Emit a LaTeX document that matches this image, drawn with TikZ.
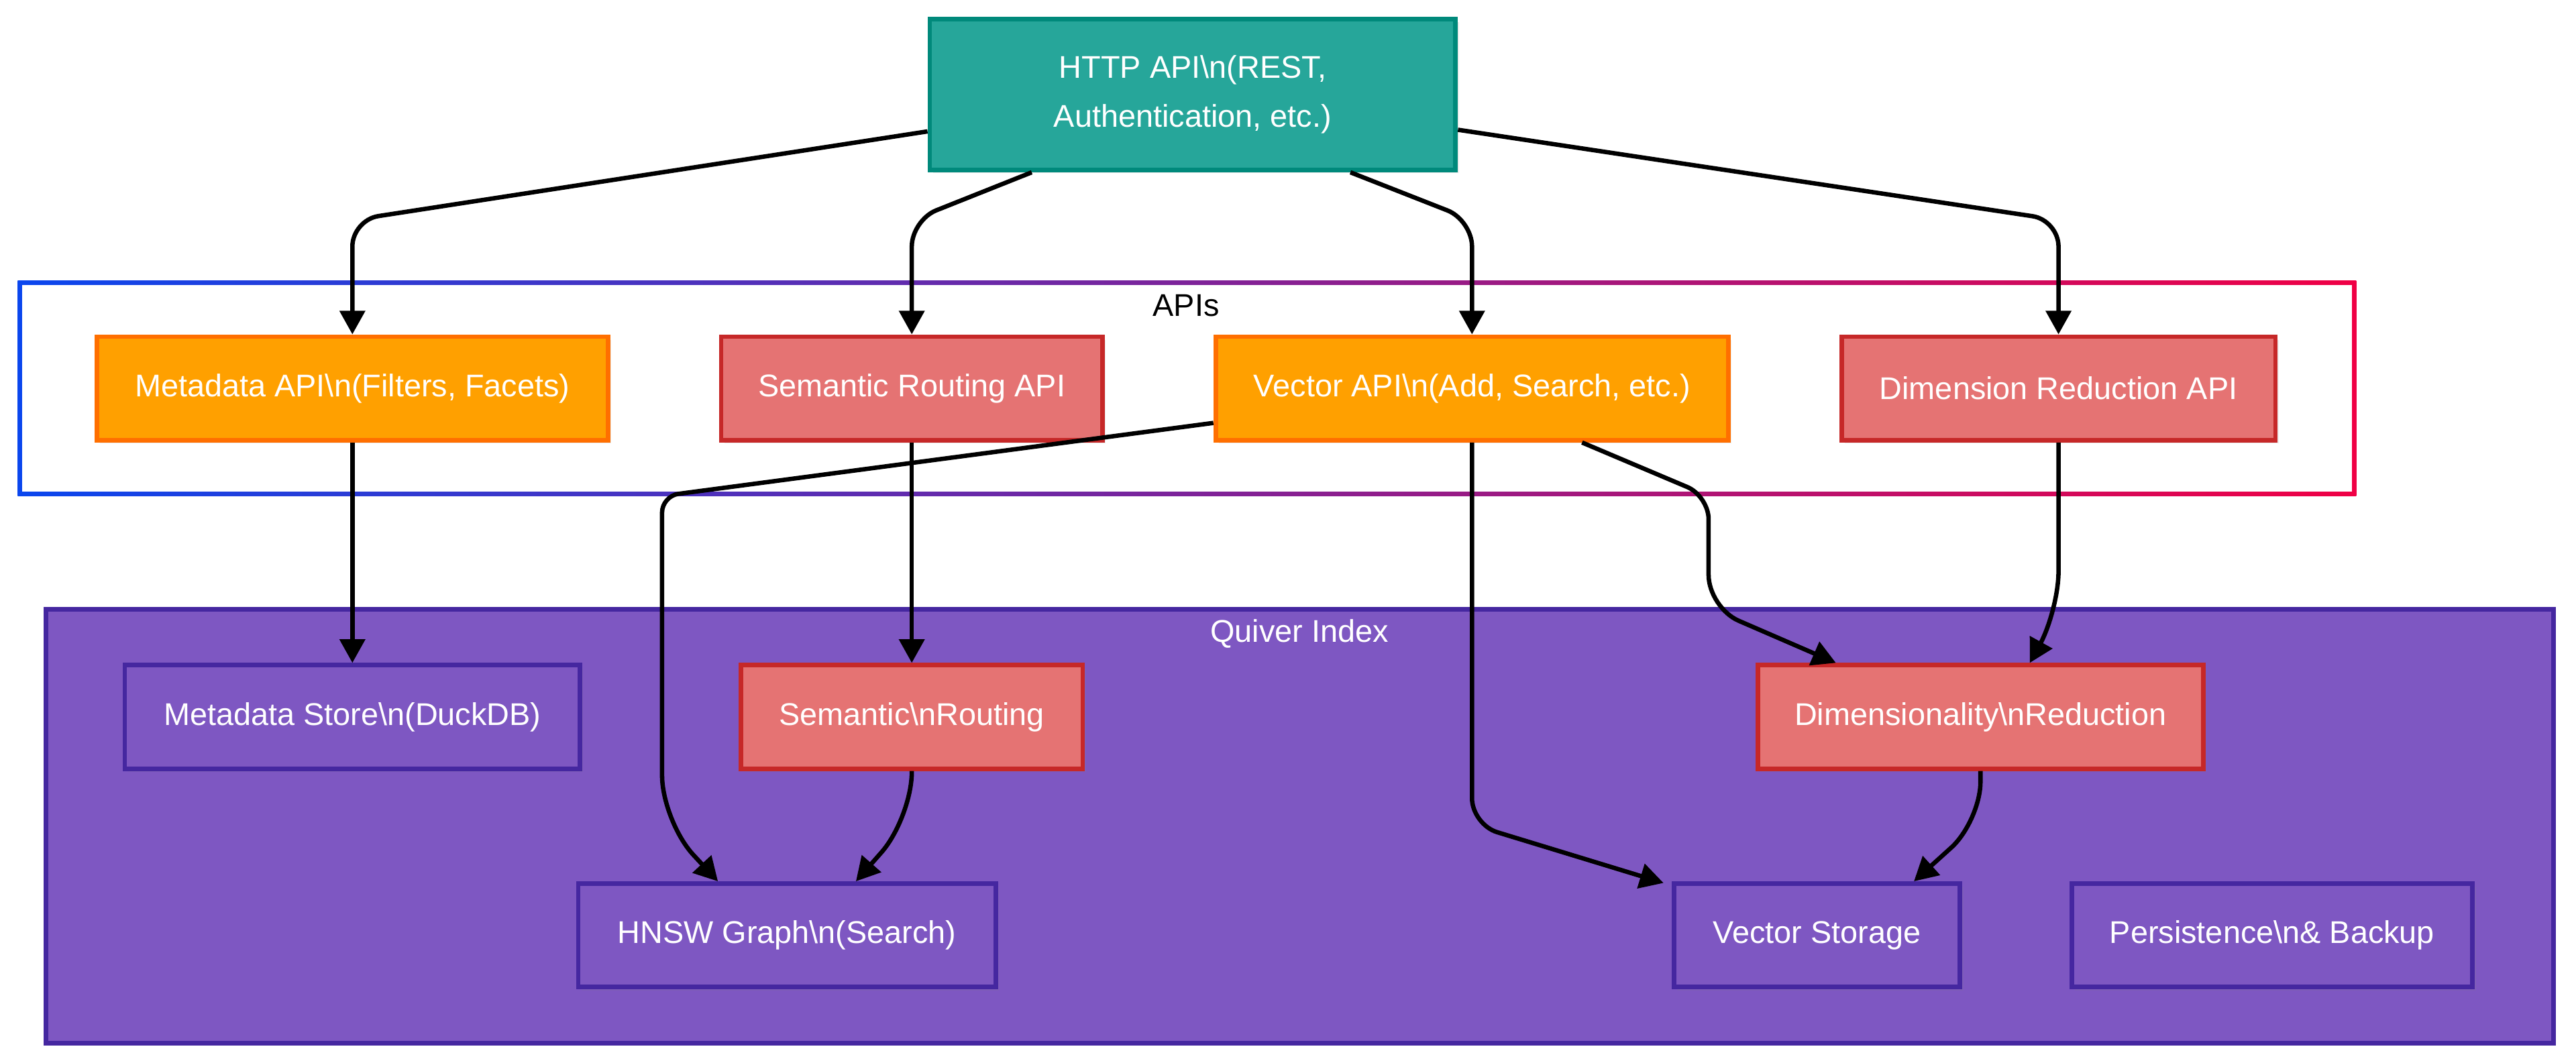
\documentclass[tikz,border=0pt]{standalone}
\usepackage{fontspec}
\setmainfont{Liberation Sans}
\usetikzlibrary{arrows.meta,calc,shadows}
\definecolor{tealfill}{HTML}{26A69A}
\definecolor{tealdraw}{HTML}{00897B}
\definecolor{orfill}{HTML}{FFA000}
\definecolor{ordraw}{HTML}{FF6F00}
\definecolor{redfill}{HTML}{E57373}
\definecolor{reddraw}{HTML}{C62828}
\definecolor{purfill}{HTML}{7E57C2}
\definecolor{purdraw}{HTML}{4527A0}
\definecolor{apiblue}{HTML}{0A46EE}
\definecolor{apired}{HTML}{F00045}
\begin{document}
\begin{tikzpicture}[x=0.025cm,y=-0.025cm,
  font=\fontsize{13.6}{21.3}\selectfont,
  box/.style={draw, line width=2pt, text=white, inner sep=0pt,
    minimum height=1.575cm, align=center,
    drop shadow={opacity=0.15, shadow xshift=0.05cm, shadow yshift=-0.05cm}},
  orbox/.style={box, fill=orfill, draw=ordraw},
  redbox/.style={box, fill=redfill, draw=reddraw},
  purbox/.style={box, fill=purfill, draw=purdraw},
  conn/.style={draw=black, line width=1.9pt, rounded corners=0.4cm,
    -{Triangle[length=0.36cm,width=0.38cm]}},
  title/.style={inner sep=0pt}
]
\useasboundingbox (0,0) rectangle (1568,647);
\fill[white] (0,0) rectangle (1568,647);

% containers
\node[inner sep=0pt, minimum width=35.575cm, minimum height=3.275cm,
      left color=apiblue, right color=apired] (apis) at (722.5,236.5) {};
\fill[white] ($(apis.south west)+(2.8,-2.8)$) rectangle ($(apis.north east)+(-2.8,2.8)$);
\node[title, text=black] (apistitle) at (722,186) {APIs};

\node[inner sep=0pt, minimum width=38.15cm, minimum height=6.6cm,
      fill=purfill, draw=purdraw, line width=2pt] (quiver) at (791,503) {};
\node[title, text=white] (quivertitle) at (791,386) {Quiver Index};

% nodes
\node[box, fill=tealfill, draw=tealdraw, minimum width=8cm, minimum height=2.3cm]
  (http) at (726,57.5) {HTTP API\textbackslash n(REST,\\Authentication, etc.)};

\node[orbox, minimum width=7.775cm] (mapi) at (214.5,236.5) {Metadata API\textbackslash n(Filters, Facets)};
\node[redbox, minimum width=5.8cm] (sapi) at (555,236.5) {Semantic Routing API};
\node[orbox, minimum width=7.8cm] (vapi) at (896,236.5) {Vector API\textbackslash n(Add, Search, etc.)};
\node[redbox, minimum width=6.6cm] (dapi) at (1253,236.5) {Dimension Reduction API};

\node[purbox, minimum width=6.925cm] (mstore) at (214.5,436.5) {Metadata Store\textbackslash n(DuckDB)};
\node[redbox, minimum width=5.2cm] (sroute) at (555,436.5) {Semantic\textbackslash nRouting};
\node[redbox, minimum width=6.775cm] (dimred) at (1205.5,436.5) {Dimensionality\textbackslash nReduction};

\node[purbox, minimum width=6.35cm] (hnsw) at (479,569.5) {HNSW Graph\textbackslash n(Search)};
\node[purbox, minimum width=4.35cm] (vstore) at (1106,569.5) {Vector Storage};
\node[purbox, minimum width=6.1cm] (persist) at (1383,569.5) {Persistence\textbackslash n\& Backup};

% connectors
\draw[conn] ($(http.west)+(0,22.5)$) -- (mapi.north |- 0,134) -- (mapi.north);
\draw[conn] ($(http.south)+(-98,0)$) -- (sapi.north |- 0,134) -- (sapi.north);
\draw[conn] ($(http.south)+(96,0)$) -- (vapi.north |- 0,134) -- (vapi.north);
\draw[conn] ($(http.east)+(0,21.5)$) -- (dapi.north |- 0,134) -- (dapi.north);

\draw[conn] (mapi.south) -- (mstore.north);
\draw[conn] (sapi.south) -- (sroute.north);

\draw[conn, rounded corners=0.25cm] ($(vapi.west)+(0,21)$) -- (403,302)
  [rounded corners=0.7cm] -- (403,500) -- ($(hnsw.north)+(-42,0)$);
\draw[conn, rounded corners=0.7cm] (sroute.south) -- (sroute.south |- 0,498) -- ($(hnsw.north)+(42,0)$);

\draw[conn, rounded corners=0.4cm] (vapi.south) -- (vapi.south |- 0,502) -- ($(vstore.north west)+(-5,1)$);
\draw[conn, rounded corners=0.35cm] ($(vapi.south)+(67,0)$) -- (1040,302)
  [rounded corners=0.5cm] -- (1040,370) -- ($(dimred.north)+(-88,0)$);
\draw[conn, rounded corners=0.6cm] (dapi.south) -- (dapi.south |- 0,372) -- ($(dimred.north)+(30,0)$);
\draw[conn, rounded corners=0.6cm] (dimred.south) -- (dimred.south |- 0,500) -- ($(vstore.north)+(59,0)$);
\end{tikzpicture}
\end{document}
